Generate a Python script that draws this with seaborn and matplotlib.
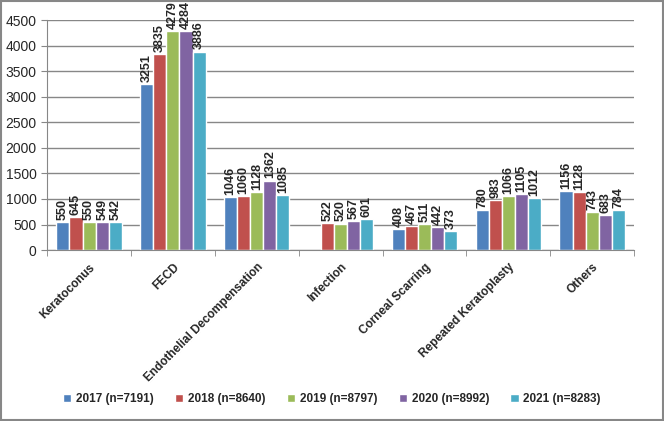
import numpy as np
import pandas as pd
import matplotlib
matplotlib.use("Agg")
import matplotlib.pyplot as plt
import seaborn as sns

# Indikationen und Jahreswerte
categories = ["Keratoconus", "FECD", "Endothelial Decompensation", "Infection",
              "Corneal Scarring", "Repeated Keratoplasty", "Others"]
years = ["2017 (n=7191)", "2018 (n=8640)", "2019 (n=8797)", "2020 (n=8992)", "2021 (n=8283)"]
v2017 = [550, 3251, 1046, np.nan, 408, 780, 1156]
v2018 = [645, 3835, 1060, 522, 467, 983, 1128]
v2019 = [550, 4279, 1128, 520, 511, 1066, 743]
v2020 = [549, 4284, 1362, 567, 442, 1105, 683]
v2021 = [542, 3886, 1085, 601, 373, 1012, 784]
colors = ["#4F81BD", "#C0504D", "#9BBB59", "#8064A2", "#4BACC6"]

rows = []
for yr, vals in zip(years, [v2017, v2018, v2019, v2020, v2021]):
    for c, v in zip(categories, vals):
        rows.append({"cat": c, "year": yr, "val": v})
df = pd.DataFrame(rows)

sns.set_style("white")
plt.rcParams['font.family'] = ['Liberation Sans', 'DejaVu Sans']

fig = plt.figure(figsize=(6.64, 4.21), dpi=100)
ax = fig.add_axes([0.071, 0.406, 0.884, 0.546])

sns.barplot(data=df, x="cat", y="val", hue="year", palette=colors, width=0.78,
            saturation=1, ax=ax, legend=True)

for cont in ax.containers:
    labels = ["" if np.isnan(v) else f"{int(v)}" for v in cont.datavalues]
    ax.bar_label(cont, labels=labels, rotation=90, padding=1.5, fontsize=9,
                 fontweight="bold", clip_on=False)

ax.set_ylim(0, 4500)
ax.set_yticks(range(0, 4501, 500))
ax.yaxis.grid(True, color="#878787", linewidth=1)
ax.set_axisbelow(True)
ax.set_xlim(-0.5, 6.5)
ax.set_xlabel("")
ax.set_ylabel("")
ax.set_xticks(range(len(categories)))
ax.set_xticklabels(categories, rotation=45, ha="right", rotation_mode="anchor",
                   fontsize=8.5, fontweight="bold")
ax.tick_params(axis="x", length=0, pad=8)
ax.set_xticks(np.arange(-0.5, 7, 1), minor=True)
ax.tick_params(axis="x", which="minor", length=4, color="#878787", bottom=True)
ax.tick_params(axis="y", length=4, color="#878787", left=True, labelsize=10)
for s in ["top", "right"]:
    ax.spines[s].set_visible(False)
for s in ["left", "bottom"]:
    ax.spines[s].set_color("#878787")

ax.legend(loc="center", bbox_to_anchor=(0.5, 1 - 399 / 421),
          bbox_transform=fig.transFigure, ncol=5, frameon=False,
          handlelength=0.7, handleheight=0.7, columnspacing=1.8, handletextpad=0.4,
          prop={"weight": "bold", "size": 8.5})

fig.patches.append(plt.Rectangle((0.002, 0.002), 0.996, 0.996, transform=fig.transFigure,
                                 fill=False, edgecolor="#878787", linewidth=1.5))

fig.savefig("out.png", dpi=100)
